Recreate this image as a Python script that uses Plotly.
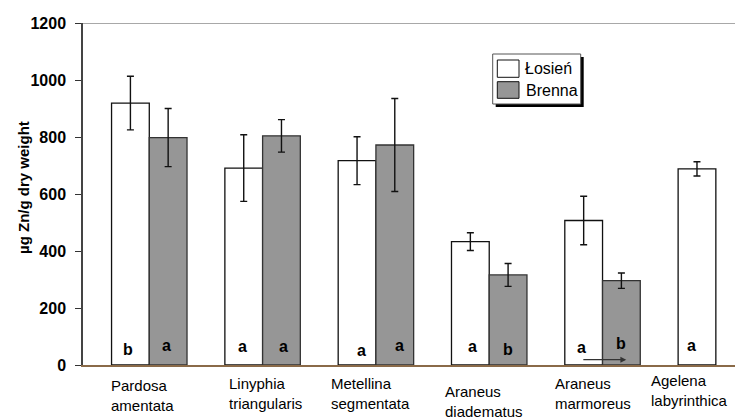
import numpy as np
import plotly.graph_objects as go

# Zinc concentration in spiders from two sites (mean ± error)
species = ["Pardosa<br>amentata", "Linyphia<br>triangularis", "Metellina<br>segmentata",
           "Araneus<br>diadematus", "Araneus<br>marmoreus", "Agelena<br>labyrinthica"]
losien_mean = [919, 691, 717, 433, 507, 688]
losien_err = [94, 117, 84, 31, 85, 25]
brenna_mean = [798, 804, 772, 316, 296, None]
brenna_err = [102, 57, 163, 40, 27, None]
losien_letters = ["b", "a", "a", "a", "a", "a"]
brenna_letters = ["a", "a", "a", "b", "b", None]
y_ticks = [0, 200, 400, 600, 800, 1000, 1200]

W, H = 735, 420
L, R, T, B = 83, 0, 23, 55
PW, PH = W - L - R, H - T - B

def px_x(p):
    return (p - L) / PW

def px_y(p):
    return (H - B - p) / PH

FONT = "Liberation Sans, Arial, sans-serif"
GRAY = "#969696"
x = np.arange(len(species))

fig = go.Figure()
fig.add_trace(go.Bar(
    x=x, y=losien_mean, name="Łosień",
    marker=dict(color="white", line=dict(color="#111111", width=1.3)),
    error_y=dict(type="data", array=losien_err, color="#111111", thickness=1.4, width=3.5),
))
fig.add_trace(go.Bar(
    x=x, y=brenna_mean, name="Brenna",
    marker=dict(color=GRAY, line=dict(color="#333333", width=1.3)),
    error_y=dict(type="data", array=brenna_err, color="#111111", thickness=1.4, width=3.5),
))

fig.update_layout(
    width=W, height=H,
    margin=dict(l=L, r=R, t=T, b=B, pad=0),
    paper_bgcolor="white", plot_bgcolor="white",
    barmode="group", bargap=0.334, bargroupgap=0,
    showlegend=False,
    font=dict(family=FONT, color="black"),
)
fig.update_xaxes(
    range=[-0.585, 5.169], showticklabels=False, ticks="",
    showgrid=False, zeroline=False,
    showline=True, linecolor="#8a6a48", linewidth=1.5,
)
fig.update_yaxes(
    range=[0, 1200], tickvals=y_ticks,
    ticks="outside", ticklen=6, tickcolor="#333333", tickwidth=1.2,
    showgrid=False, zeroline=False,
    showline=True, linecolor="#444444", linewidth=1.5,
    tickfont=dict(family=FONT, size=16, color="black", weight="bold"),
    ticklabelstandoff=6,
)

# grey frame line along the top of the plot area
fig.add_shape(type="line", xref="paper", yref="y", x0=0, x1=1, y0=1200, y1=1200,
              line=dict(color="#a8a8a8", width=2), layer="below")

# axis title
fig.add_annotation(text="µg Zn/g dry weight", xref="paper", yref="paper",
                   x=px_x(24), y=px_y(188), textangle=-90, showarrow=False,
                   xanchor="center", yanchor="middle",
                   font=dict(family=FONT, size=15, weight="bold"))

# category labels, left aligned two-line text
label_left = [108.8, 227.1, 329.3, 443.0, 552.7, 649.4]
label_top = [375, 373, 373, 381, 373, 370]
for i, lab in enumerate(species):
    fig.add_annotation(text=lab, xref="paper", yref="paper",
                       x=px_x(label_left[i]), y=px_y(label_top[i]),
                       xanchor="left", yanchor="top", align="left", showarrow=False,
                       font=dict(family=FONT, size=15))

# significance letters inside the bars
half = 0.1665
los_dx = [-2, -1, 4, 2.5, -2.5, -5]
los_cy = [349, 346.7, 350, 346.3, 347.3, 345]
bre_dx = [-2, 2, 5, 0, 0, 0]
bre_cy = [345, 346.7, 345, 349.3, 343.3, 345]
for i in range(len(species)):
    for letter, off, dx, cy in ((losien_letters[i], -half, los_dx[i], los_cy[i]),
                                (brenna_letters[i], half, bre_dx[i], bre_cy[i])):
        if letter is None:
            continue
        fig.add_annotation(text=letter, x=i + off, y=0, xref="x", yref="y",
                           xshift=dx, yshift=(H - B) - cy, showarrow=False,
                           xanchor="center", yanchor="middle",
                           font=dict(family=FONT, size=16, weight="bold"))

# arrow under Araneus marmoreus
fig.add_annotation(x=4, y=0, xref="x", yref="y", xshift=23.7, yshift=5.3,
                   ax=-44.4, ay=0, axref="pixel", ayref="pixel", text="",
                   showarrow=True, arrowhead=2, arrowsize=0.9, arrowwidth=1.3,
                   arrowcolor="#333333")

# legend box with drop shadow
fig.add_shape(type="rect", xref="paper", yref="paper",
              x0=px_x(495.7), x1=px_x(583.7), y0=px_y(107), y1=px_y(57),
              fillcolor="black", line=dict(width=0))
fig.add_shape(type="rect", xref="paper", yref="paper",
              x0=px_x(492.7), x1=px_x(580.7), y0=px_y(104), y1=px_y(54),
              fillcolor="white", line=dict(color="#555555", width=1))
fig.add_shape(type="rect", xref="paper", yref="paper",
              x0=px_x(497.3), x1=px_x(519), y0=px_y(77.3), y1=px_y(60),
              fillcolor="white", line=dict(color="#111111", width=1))
fig.add_shape(type="rect", xref="paper", yref="paper",
              x0=px_x(497.3), x1=px_x(519), y0=px_y(98.3), y1=px_y(81.7),
              fillcolor=GRAY, line=dict(color="#111111", width=1))
for name, lx, cy in (("Łosień", 523.3, 68.7), ("Brenna", 524, 90)):
    fig.add_annotation(text=name, xref="paper", yref="paper", x=px_x(lx), y=px_y(cy),
                       xanchor="left", yanchor="middle", showarrow=False,
                       font=dict(family=FONT, size=16))

fig.write_html("out.html")
